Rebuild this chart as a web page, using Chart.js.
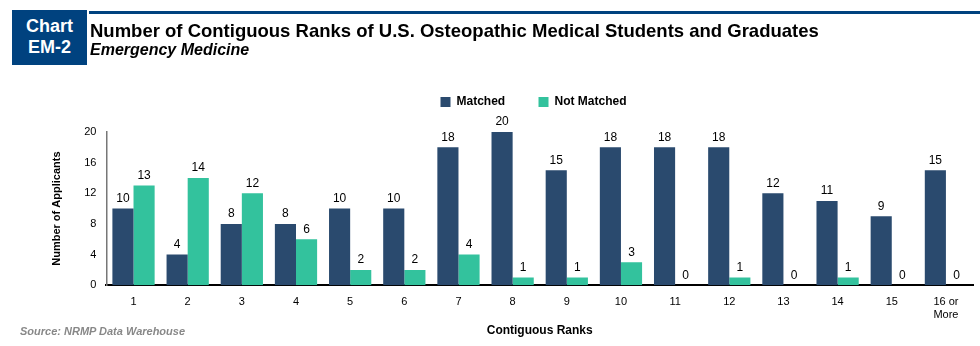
<!DOCTYPE html>
<html>
<head>
<meta charset="utf-8">
<script src="https://cdn.jsdelivr.net/npm/chart.js@4/dist/chart.umd.min.js"></script>
<style>
	body { margin: 0; background: #fff; font-family: 'Liberation Sans', Arial, sans-serif; }
	#wrap { position: relative; width: 980px; height: 346px; overflow: hidden; }
	#chart { position: absolute; left: 0; top: 0; }
	.badge { position: absolute; left: 12px; top: 10px; width: 75px; height: 55px; background: #00427f; color: #fff; font-weight: bold; font-size: 18px; line-height: 21px; text-align: center; padding-top: 6px; box-sizing: border-box; }
	.rule { position: absolute; left: 89px; top: 11px; right: 0; height: 3px; background: #00427f; }
	.title { position: absolute; left: 90px; top: 20px; font-weight: bold; font-size: 18.5px; line-height: 21px; color: #000; white-space: nowrap; }
	.subtitle { position: absolute; left: 90px; top: 41px; font-weight: bold; font-style: italic; font-size: 16px; line-height: 18px; color: #000; }
	.source { position: absolute; left: 20px; top: 325px; font-weight: bold; font-style: italic; font-size: 11px; color: #888; }
</style>
</head>
<body>
<div id="wrap">
	<canvas id="chart" width="980" height="346"></canvas>
	<div class="badge">Chart<br>EM-2</div>
	<div class="rule"></div>
	<div class="title">Number of Contiguous Ranks of U.S. Osteopathic Medical Students and Graduates</div>
	<div class="subtitle">Emergency Medicine</div>
	<div class="source">Source: NRMP Data Warehouse</div>
</div>
<script>
const categories = ['1', '2', '3', '4', '5', '6', '7', '8', '9', '10', '11', '12', '13', '14', '15', ['16 or', 'More']];
const matched = [10, 4, 8, 8, 10, 10, 18, 20, 15, 18, 18, 18, 12, 11, 9, 15];
const notMatched = [13, 14, 12, 6, 2, 2, 4, 1, 1, 3, 0, 1, 0, 1, 0, 0];
const yTicks = [0, 4, 8, 12, 16, 20];

const FONT = "'Liberation Sans', Arial, sans-serif";

// draws the value above each bar, zeros included
const barLabels = {
	id: 'barLabels',
	afterDatasetsDraw(chart) {
		const ctx = chart.ctx;
		ctx.save();
		ctx.font = '12px ' + FONT;
		ctx.fillStyle = '#000';
		ctx.textAlign = 'center';
		ctx.textBaseline = 'bottom';
		chart.data.datasets.forEach((ds, i) => {
			chart.getDatasetMeta(i).data.forEach((bar, j) => {
				ctx.fillText(String(ds.data[j]), bar.x, bar.y - 4);
			});
		});
		ctx.restore();
	},
};

// extra room between the legend and the plot, and nudge it over the plot centre
const legendTweak = {
	id: 'legendTweak',
	beforeInit(chart) {
		const fit = chart.legend.fit;
		chart.legend.fit = function () {
			fit.bind(chart.legend)();
			this.height += 14;
		};
	},
	afterLayout(chart) {
		chart.legend.left += 24;
		chart.legend.right += 24;
	},
};

new Chart(document.getElementById('chart'), {
	type: 'bar',
	data: {
		labels: categories,
		datasets: [
			{ label: 'Matched', data: matched, backgroundColor: '#2a4a6e' },
			{ label: 'Not Matched', data: notMatched, backgroundColor: '#33c29d' },
		],
	},
	options: {
		responsive: false,
		animation: false,
		layout: { padding: { left: 46, right: 7, top: 86, bottom: 4 } },
		datasets: { bar: { categoryPercentage: 0.78, barPercentage: 1 } },
		plugins: {
			legend: {
				display: true,
				position: 'top',
				labels: {
					boxWidth: 10,
					boxHeight: 10,
					padding: 10,
					color: '#000',
					font: { family: FONT, size: 12, weight: 'bold' },
					generateLabels(chart) {
						const items = Chart.defaults.plugins.legend.labels.generateLabels(chart);
						items[0].text = items[0].text + '       ';
						return items;
					},
				},
			},
			tooltip: { enabled: false },
		},
		scales: {
			x: {
				grid: { display: false, drawTicks: false },
				border: { display: true, color: '#000', width: 2 },
				ticks: { color: '#000', font: { family: FONT, size: 11 }, maxRotation: 0, padding: 10 },
				title: { display: true, text: 'Contiguous Ranks', color: '#000', font: { family: FONT, size: 12, weight: 'bold' }, padding: { top: 0 } },
				afterFit(scale) { scale.height -= 8; },
			},
			y: {
				min: 0,
				max: 20,
				afterBuildTicks: (axis) => { axis.ticks = yTicks.map((v) => ({ value: v })); },
				grid: { display: false, drawTicks: false },
				border: { display: true, color: '#777', width: 1.5 },
				ticks: { color: '#000', font: { family: FONT, size: 11 }, padding: 10 },
				title: { display: true, text: 'Number of Applicants', color: '#000', font: { family: FONT, size: 11, weight: 'bold' }, padding: { bottom: 11 } },
			},
		},
	},
	plugins: [barLabels, legendTweak],
});
</script>
</body>
</html>
